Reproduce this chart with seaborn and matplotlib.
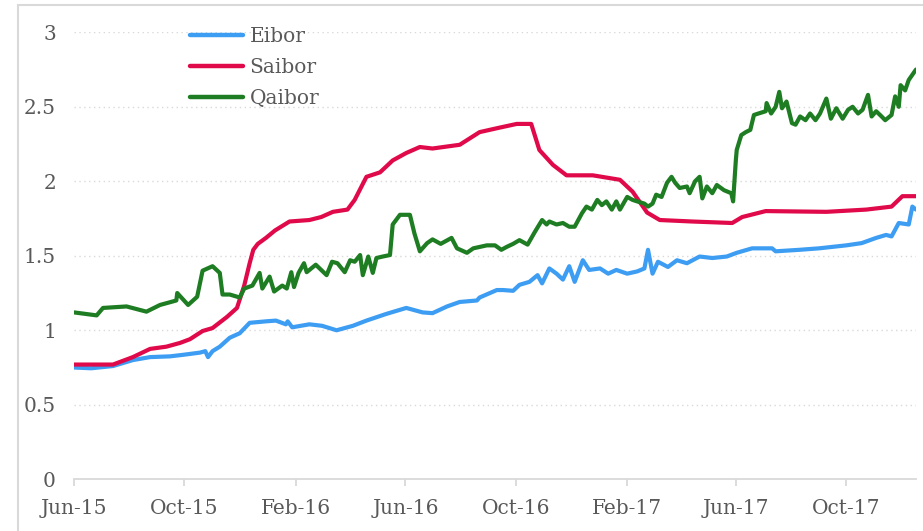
import pandas as pd
import matplotlib
matplotlib.use("Agg")
import matplotlib.pyplot as plt
import matplotlib.dates as mdates
from matplotlib.patches import Rectangle
import seaborn as sb

text_colour = '#595959'
grid_colour = '#d9d9d9'

# Eibor
eibor_dates = ['2015-06-01', '2015-06-20', '2015-07-14', '2015-07-25', '2015-08-05', '2015-08-24',
               '2015-09-15', '2015-09-29', '2015-10-18', '2015-10-24', '2015-10-27', '2015-11-01',
               '2015-11-09', '2015-11-20', '2015-12-01', '2015-12-12', '2015-12-30', '2016-01-10',
               '2016-01-21', '2016-01-23', '2016-01-28', '2016-02-16', '2016-03-01', '2016-03-17',
               '2016-04-04', '2016-04-19', '2016-05-11', '2016-06-02', '2016-06-20', '2016-07-01',
               '2016-07-17', '2016-07-31', '2016-08-19', '2016-08-22', '2016-09-10', '2016-09-17',
               '2016-09-28', '2016-10-05', '2016-10-16', '2016-10-25', '2016-10-30', '2016-11-07',
               '2016-11-15', '2016-11-22', '2016-11-29', '2016-12-05', '2016-12-14', '2016-12-21',
               '2017-01-02', '2017-01-11', '2017-01-20', '2017-02-01', '2017-02-12', '2017-02-20',
               '2017-02-24', '2017-03-01', '2017-03-07', '2017-03-18', '2017-03-28', '2017-04-08',
               '2017-04-22', '2017-05-06', '2017-05-22', '2017-06-02', '2017-06-19', '2017-07-11',
               '2017-07-15', '2017-08-10', '2017-09-01', '2017-10-01', '2017-10-18', '2017-11-03',
               '2017-11-14', '2017-11-20', '2017-11-28', '2017-12-09', '2017-12-13', '2017-12-17']
eibor_vals = [0.75, 0.745, 0.76, 0.78, 0.80, 0.82,
              0.825, 0.835, 0.85, 0.86, 0.82, 0.86,
              0.89, 0.95, 0.98, 1.05, 1.06, 1.065,
              1.04, 1.06, 1.02, 1.04, 1.03, 1.00,
              1.03, 1.065, 1.11, 1.15, 1.12, 1.115,
              1.16, 1.19, 1.20, 1.22, 1.27, 1.27,
              1.265, 1.305, 1.325, 1.37, 1.315, 1.415,
              1.38, 1.34, 1.43, 1.325, 1.47, 1.405,
              1.415, 1.38, 1.405, 1.38, 1.395, 1.415,
              1.54, 1.38, 1.46, 1.425, 1.47, 1.45,
              1.495, 1.485, 1.495, 1.52, 1.55, 1.55,
              1.53, 1.54, 1.55, 1.57, 1.585, 1.62,
              1.64, 1.63, 1.72, 1.71, 1.83, 1.81]

# Saibor
saibor_dates = ['2015-06-01', '2015-07-14', '2015-08-05', '2015-08-24', '2015-09-11', '2015-09-26',
                '2015-10-07', '2015-10-21', '2015-11-01', '2015-11-17', '2015-11-28', '2015-12-06',
                '2015-12-12', '2015-12-16', '2015-12-21', '2015-12-30', '2016-01-09', '2016-01-25',
                '2016-02-16', '2016-02-29', '2016-03-13', '2016-03-29', '2016-04-06', '2016-04-19',
                '2016-05-04', '2016-05-18', '2016-06-02', '2016-06-17', '2016-07-01', '2016-07-31',
                '2016-08-22', '2016-09-13', '2016-10-02', '2016-10-18', '2016-10-27', '2016-11-11',
                '2016-11-26', '2016-12-25', '2017-01-24', '2017-02-07', '2017-02-23', '2017-03-09',
                '2017-04-14', '2017-05-28', '2017-06-08', '2017-07-04', '2017-09-09', '2017-10-23',
                '2017-11-20', '2017-12-02', '2017-12-17']
saibor_vals = [0.77, 0.77, 0.82, 0.875, 0.89, 0.915,
               0.94, 0.995, 1.015, 1.09, 1.15, 1.30,
               1.45, 1.54, 1.58, 1.62, 1.67, 1.73,
               1.74, 1.76, 1.795, 1.81, 1.875, 2.03,
               2.06, 2.14, 2.19, 2.23, 2.22, 2.245,
               2.33, 2.36, 2.385, 2.385, 2.21, 2.11,
               2.04, 2.04, 2.01, 1.93, 1.79, 1.74,
               1.73, 1.72, 1.76, 1.80, 1.795, 1.81,
               1.83, 1.90, 1.90]

# Qaibor
qaibor_dates = ['2015-06-01', '2015-06-26', '2015-07-03', '2015-07-29', '2015-08-20', '2015-09-04',
                '2015-09-22', '2015-09-23', '2015-10-05', '2015-10-15', '2015-10-21', '2015-11-01',
                '2015-11-09', '2015-11-12', '2015-11-20', '2015-12-01', '2015-12-06', '2015-12-15',
                '2015-12-23', '2015-12-26', '2016-01-03', '2016-01-08', '2016-01-17', '2016-01-22',
                '2016-01-27', '2016-01-30', '2016-02-04', '2016-02-10', '2016-02-13', '2016-02-23',
                '2016-03-06', '2016-03-12', '2016-03-18', '2016-03-26', '2016-04-01', '2016-04-06',
                '2016-04-12', '2016-04-15', '2016-04-21', '2016-04-26', '2016-04-30', '2016-05-07',
                '2016-05-15', '2016-05-18', '2016-05-26', '2016-06-06', '2016-06-11', '2016-06-17',
                '2016-06-25', '2016-07-01', '2016-07-10', '2016-07-22', '2016-07-28', '2016-08-08',
                '2016-08-15', '2016-08-30', '2016-09-08', '2016-09-15', '2016-09-21', '2016-09-28',
                '2016-10-05', '2016-10-14', '2016-10-22', '2016-10-30', '2016-11-04', '2016-11-07',
                '2016-11-15', '2016-11-22', '2016-11-29', '2016-12-05', '2016-12-13', '2016-12-18',
                '2016-12-24', '2016-12-30', '2017-01-04', '2017-01-09', '2017-01-15', '2017-01-20',
                '2017-01-24', '2017-02-01', '2017-02-07', '2017-02-12', '2017-02-20', '2017-02-24',
                '2017-03-01', '2017-03-05', '2017-03-11', '2017-03-17', '2017-03-22', '2017-03-26',
                '2017-03-31', '2017-04-08', '2017-04-11', '2017-04-17', '2017-04-22', '2017-04-25',
                '2017-04-30', '2017-05-06', '2017-05-11', '2017-05-19', '2017-05-27', '2017-05-29',
                '2017-06-01', '2017-06-02', '2017-06-07', '2017-06-12', '2017-06-17', '2017-06-21',
                '2017-06-26', '2017-07-04', '2017-07-05', '2017-07-10', '2017-07-15', '2017-07-19',
                '2017-07-22', '2017-07-27', '2017-08-02', '2017-08-06', '2017-08-11', '2017-08-17',
                '2017-08-22', '2017-08-28', '2017-09-02', '2017-09-09', '2017-09-14', '2017-09-20',
                '2017-09-27', '2017-10-03', '2017-10-08', '2017-10-14', '2017-10-19', '2017-10-25',
                '2017-10-29', '2017-11-03', '2017-11-09', '2017-11-13', '2017-11-20', '2017-11-24',
                '2017-11-28', '2017-11-30', '2017-12-05', '2017-12-09', '2017-12-17']
qaibor_vals = [1.12, 1.10, 1.15, 1.16, 1.125, 1.17,
               1.20, 1.25, 1.17, 1.225, 1.40, 1.43,
               1.385, 1.24, 1.24, 1.22, 1.28, 1.30,
               1.385, 1.28, 1.36, 1.26, 1.30, 1.28,
               1.39, 1.29, 1.385, 1.45, 1.39, 1.44,
               1.37, 1.46, 1.45, 1.39, 1.47, 1.46,
               1.505, 1.37, 1.495, 1.385, 1.485, 1.495,
               1.505, 1.71, 1.775, 1.775, 1.65, 1.53,
               1.585, 1.61, 1.58, 1.62, 1.55, 1.52,
               1.55, 1.57, 1.57, 1.54, 1.56, 1.58,
               1.605, 1.575, 1.66, 1.74, 1.71, 1.73,
               1.71, 1.72, 1.695, 1.695, 1.785, 1.83,
               1.81, 1.875, 1.84, 1.865, 1.81, 1.865,
               1.81, 1.895, 1.875, 1.865, 1.85, 1.83,
               1.85, 1.91, 1.895, 1.99, 2.03, 1.99,
               1.955, 1.965, 1.92, 2.00, 2.03, 1.885,
               1.965, 1.92, 1.975, 1.94, 1.92, 1.865,
               2.14, 2.21, 2.31, 2.33, 2.345, 2.445,
               2.455, 2.47, 2.525, 2.455, 2.50, 2.60,
               2.49, 2.535, 2.39, 2.38, 2.435, 2.41,
               2.455, 2.41, 2.455, 2.555, 2.42, 2.49,
               2.42, 2.48, 2.50, 2.455, 2.48, 2.58,
               2.435, 2.47, 2.435, 2.41, 2.445, 2.57,
               2.50, 2.645, 2.61, 2.68, 2.75]

series = [('Eibor', eibor_dates, eibor_vals, '#3d9df3'),
          ('Saibor', saibor_dates, saibor_vals, '#e0094a'),
          ('Qaibor', qaibor_dates, qaibor_vals, '#1e7d22')]

sb.set_style('white')
plt.rcParams['font.family'] = ['DejaVu Serif']
plt.rcParams['text.color'] = text_colour

fig = plt.figure(figsize=(9.23, 5.31), dpi=100)
ax = fig.add_axes([0.0802, 0.0974, 0.9122, 0.8418])

for name, d, v, c in series:
    df = pd.DataFrame({'date': pd.to_datetime(d), 'rate': v})
    sb.lineplot(data=df, x='date', y='rate', color=c, linewidth=3.0, label=name, ax=ax)

ax.set_xlim(pd.Timestamp('2015-06-01'), pd.Timestamp('2017-12-17'))
ax.set_ylim(0, 3)
ax.set_yticks([0, 0.5, 1, 1.5, 2, 2.5, 3])
ax.set_yticklabels(['0', '0.5', '1', '1.5', '2', '2.5', '3'])
ax.xaxis.set_major_locator(mdates.MonthLocator(bymonth=[2, 6, 10]))
ax.xaxis.set_major_formatter(mdates.DateFormatter('%b-%y'))
ax.set_xlabel('')
ax.set_ylabel('')

for s in ['top', 'right', 'left']:
    ax.spines[s].set_visible(False)
ax.spines['bottom'].set_color(grid_colour)
ax.spines['bottom'].set_linewidth(1.3)
ax.grid(axis='y', color=grid_colour, linestyle=(0, (1, 2.5)), linewidth=1)
ax.tick_params(axis='y', length=0, pad=13, labelsize=14.5, labelcolor=text_colour)
ax.tick_params(axis='x', length=5, width=1.3, color=grid_colour, pad=9,
               labelsize=14.5, labelcolor=text_colour, bottom=True)

leg = ax.legend(loc='upper left', bbox_to_anchor=(190 / 923, 1 - 27 / 531),
                bbox_transform=fig.transFigure, frameon=False, fontsize=14.5,
                handlelength=2.65, handletextpad=0.3, labelspacing=0.6,
                borderpad=0, borderaxespad=0)
for line in leg.get_lines():
    line.set_linewidth(3.2)

# outer chart border
fig.patches.append(Rectangle((18 / 923, -0.05), 1.1, 1 - 5.5 / 531 + 0.05,
                             transform=fig.transFigure, fill=False,
                             edgecolor=grid_colour, linewidth=1.5))

plt.savefig('out.png', dpi=100)
